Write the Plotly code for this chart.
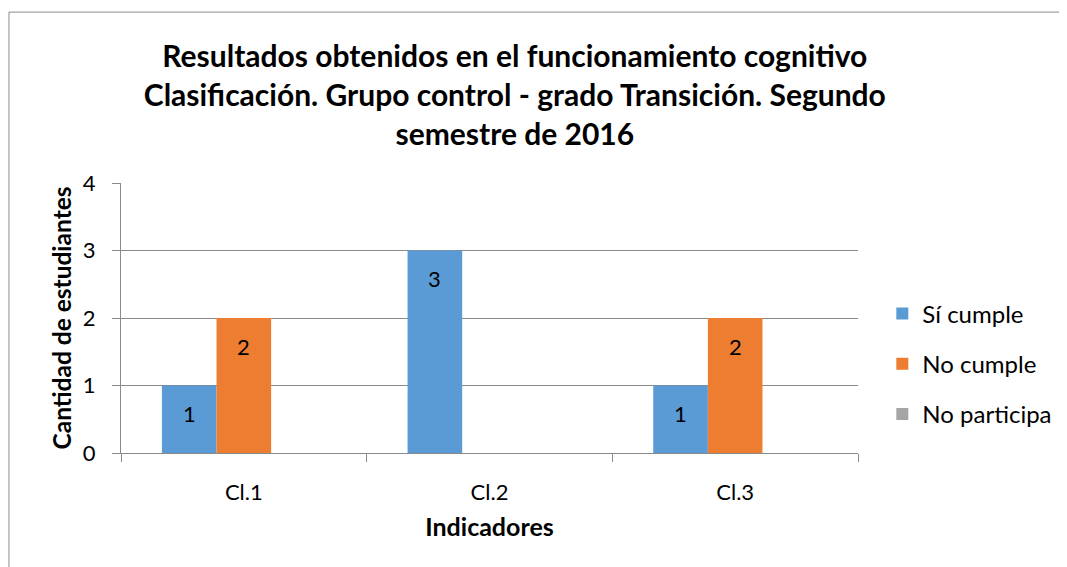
import plotly.graph_objects as go

categories = ["Cl.1", "Cl.2", "Cl.3"]
si_cumple = [1, 3, 1]
no_cumple = [2, 0, 2]
no_participa = [0, 0, 0]
series_names = ["Sí cumple", "No cumple", "No participa"]
colors = ["#5B9BD5", "#ED7D31", "#A5A5A5"]
y_ticks = [0, 1, 2, 3, 4]

FONT = "Lato"
series = [si_cumple, no_cumple, no_participa]
bargap = 0.333
barw = (1 - bargap) / len(series)

fig = go.Figure()
for j, (name, vals, col) in enumerate(zip(series_names, series, colors)):
    fig.add_trace(go.Bar(
        x=categories, y=vals, name=name, marker=dict(color=col, line=dict(width=0)),
        legendgroup=name,
    ))
    for i, v in enumerate(vals):
        if v:
            fig.add_annotation(
                x=i + (j - 1) * barw, y=v, xref="x", yref="y", text=str(v),
                showarrow=False, yshift=-28, font=dict(family=FONT, size=22, color="#000000"),
            )

fig.add_shape(type="rect", xref="paper", yref="paper",
              x0=-0.152, x1=1.282, y0=-0.5, y1=1.633,
              line=dict(color="#8c8c8c", width=1), layer="below")

fig.update_layout(
    width=1067, height=567,
    paper_bgcolor="white", plot_bgcolor="white",
    margin=dict(l=113, r=217, t=175, b=122, autoexpand=False),
    barmode="group", bargap=bargap, bargroupgap=0,
    font=dict(family=FONT, size=22, color="#000000"),
    title=dict(
        text="<b>Resultados obtenidos en el funcionamiento cognitivo<br>Clasificación. Grupo control - grado Transición. Segundo<br>semestre de 2016</b>",
        x=0.475, xref="container", xanchor="center",
        y=0.896, yref="container", yanchor="middle",
        font=dict(family=FONT, size=30, color="#000000"),
    ),
    legend=dict(
        x=1.033, xanchor="left", y=0.33, yanchor="middle",
        font=dict(family=FONT, size=24), tracegroupgap=16,
        itemwidth=30,
    ),
    showlegend=True,
)
fig.update_xaxes(
    type="category", showline=True, linecolor="#898989", linewidth=1,
    showgrid=False, ticks="outside", ticklen=8, tickcolor="#898989",
    tickson="boundaries", ticklabelstandoff=20,
    title=dict(text="<b>Indicadores</b>", font=dict(family=FONT, size=25), standoff=14),
)
fig.update_yaxes(
    range=[0, 4], tickvals=y_ticks, showline=True, linecolor="#898989", linewidth=1,
    showgrid=True, gridcolor="#898989", gridwidth=1, ticks="outside", ticklen=8,
    tickcolor="#898989", zeroline=False, ticklabelstandoff=12,
    title=dict(text="<b>Cantidad de estudiantes</b>", font=dict(family=FONT, size=24.5), standoff=4),
)

fig.write_html("out.html")
